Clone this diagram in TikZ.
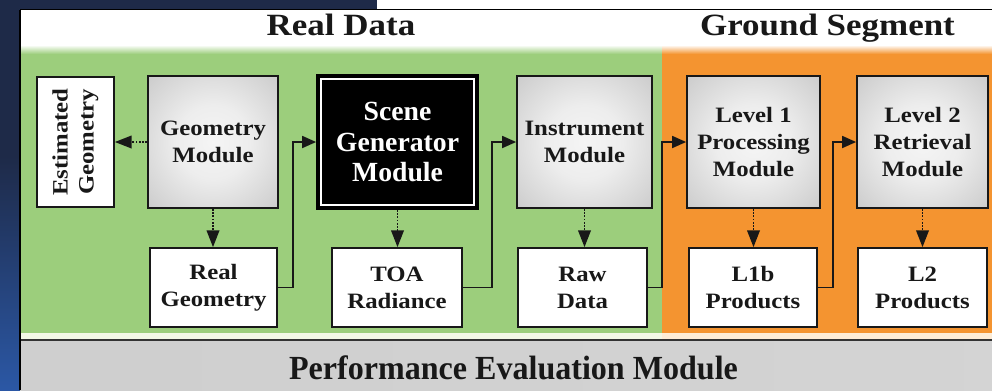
\documentclass[tikz,border=0pt]{standalone}
\usepackage{fontspec}
\setmainfont[FakeStretch=1.13]{Liberation Serif}
\newfontfamily\scenefont{Liberation Serif}
\newfontfamily\perffont[FakeStretch=0.95]{Liberation Serif}
\usetikzlibrary{arrows.meta,calc}
\definecolor{navy}{RGB}{30,42,72}
\definecolor{brightblue}{RGB}{50,112,215}
\definecolor{leaf}{RGB}{156,206,124}
\definecolor{tang}{RGB}{244,148,48}
\definecolor{ink}{RGB}{24,24,24}
\definecolor{creamg}{RGB}{243,248,230}
\definecolor{creamo}{RGB}{253,236,214}
\pgfdeclareradialshading{modshade}{\pgfpoint{0bp}{0bp}}{color(0bp)=(gray!8); color(14bp)=(gray!14); color(50bp)=(gray!58); color(75bp)=(gray!70)}
\pgfdeclareverticalshading{bgshade}{100bp}{color(0bp)=(brightblue); color(25bp)=(brightblue!65!navy); color(55bp)=(navy); color(100bp)=(navy)}
\tikzset{
  sz/.style 2 args={minimum width=#1*0.025cm, minimum height=#2*0.025cm},
  boxfont/.style={font=\fontsize{15.6}{19.2}\selectfont\bfseries},
  modbox/.style={draw=ink, line width=1.2pt, shade, shading=modshade, align=center, text=ink, inner sep=0pt, boxfont},
  outbox/.style={draw=ink, line width=1.2pt, fill=white, align=center, text=ink, inner sep=0pt, boxfont},
  scenebox/.style={draw=black, line width=1.2pt, fill=black, align=center, text=white, inner sep=0pt, font=\scenefont\fontsize{19.7}{22}\selectfont\bfseries},
  titletext/.style={font=\fontsize{22}{26}\selectfont\bfseries, text=ink, inner sep=0pt},
  dotarr/.style={ink, line width=1.3pt, densely dotted, -{Triangle[width=9pt,length=12pt]}},
  conn/.style={ink, line width=1.4pt, -{Triangle[width=8.5pt,length=10pt]}},
}
\begin{document}
\begin{tikzpicture}[x=0.025cm, y=-0.025cm]
\useasboundingbox (0,0) rectangle (992,390);
% background
\shade[shading=bgshade] (0,0) rectangle (992,390);
\fill[white] (377,0) rectangle (992,10);
% panel
\fill[white] (20,10) rectangle (992,50);
\fill[leaf] (20,50) rectangle (662,333);
\fill[tang] (662,50) rectangle (992,333);
\shade[top color=white, bottom color=leaf] (20,45) rectangle (662,54);
\shade[top color=white, bottom color=tang] (662,45) rectangle (992,54);
\fill[creamg] (20,333) rectangle (662,339);
\fill[creamo] (662,333) rectangle (992,339);
\shade[left color=gray!38, middle color=gray!20, right color=gray!34] (20,341) rectangle (992,390);
\draw[gray!40!black, line width=1.4pt] (20,340) -- (992,340);
\draw[black, line width=1.4pt] (20,9.5) -- (992,9.5);
\draw[black, line width=1.4pt] (20,9.5) -- (20,390);
% titles
\node[titletext, anchor=base] (rd) at (341,35) {Real Data};
\node[titletext, anchor=base] (gs) at (827.5,35) {Ground Segment};
\node[anchor=base, inner sep=0pt, text=ink, font=\perffont\fontsize{24}{28}\selectfont\bfseries] (pem) at (513.5,379) {Performance Evaluation Module};
% top row
\node[outbox, sz={77}{130}] (est) at (75.5,142) {\rotatebox{90}{\fontsize{15.6}{18.5}\selectfont\begin{tabular}{@{}c@{}}Estimated\\Geometry\end{tabular}}};
\node[modbox, sz={130}{132}] (geo) at (213,142) {Geometry\\Module};
\node[scenebox, sz={161}{134}] (scene) at (397.5,142) {Scene\\Generator\\Module};
\draw[white, line width=1.3pt] ($(scene.north west)+(4.5,4.5)$) rectangle ($(scene.south east)+(-4.5,-4.5)$);
\node[modbox, sz={135}{132}] (inst) at (584.5,142) {Instrument\\Module};
\node[modbox, sz={133}{132}] (lone) at (753.5,142) {Level 1\\Processing\\Module};
\node[modbox, sz={131}{132}] (ltwo) at (922.5,142) {Level 2\\Retrieval\\Module};
% bottom row
\node[outbox, sz={127}{79}] (rgeo) at (213.5,287.5) {Real\\Geometry};
\node[outbox, sz={130}{79}] (toa) at (397,287.5) {TOA\\Radiance};
\node[outbox, sz={129}{79}] (raw) at (582.5,287.5) {Raw\\Data};
\node[outbox, sz={128}{79}] (lonep) at (753,287.5) {L1b\\Products};
\node[outbox, sz={129}{79}] (ltwop) at (922.5,287.5) {L2\\Products};
% dotted arrows
\draw[dotarr] (geo.west) -- (est.east);
\draw[dotarr] (geo.south) -- (geo.south |- rgeo.north);
\draw[dotarr] (scene.south) -- (scene.south |- toa.north);
\draw[dotarr] (inst.south) -- (inst.south |- raw.north);
\draw[dotarr] (lone.south) -- (lone.south |- lonep.north);
\draw[dotarr] (ltwo.south) -- (ltwo.south |- ltwop.north);
% solid connectors
\draw[conn] (rgeo.east) -- ++(15,0) |- (scene.west);
\draw[conn] (toa.east) -- ++(29,0) |- (inst.west);
\draw[conn] (raw.east) -- ++(14,0) |- (lone.west);
\draw[conn] (lonep.east) -- ++(15,0) |- (ltwo.west);
\end{tikzpicture}
\end{document}
